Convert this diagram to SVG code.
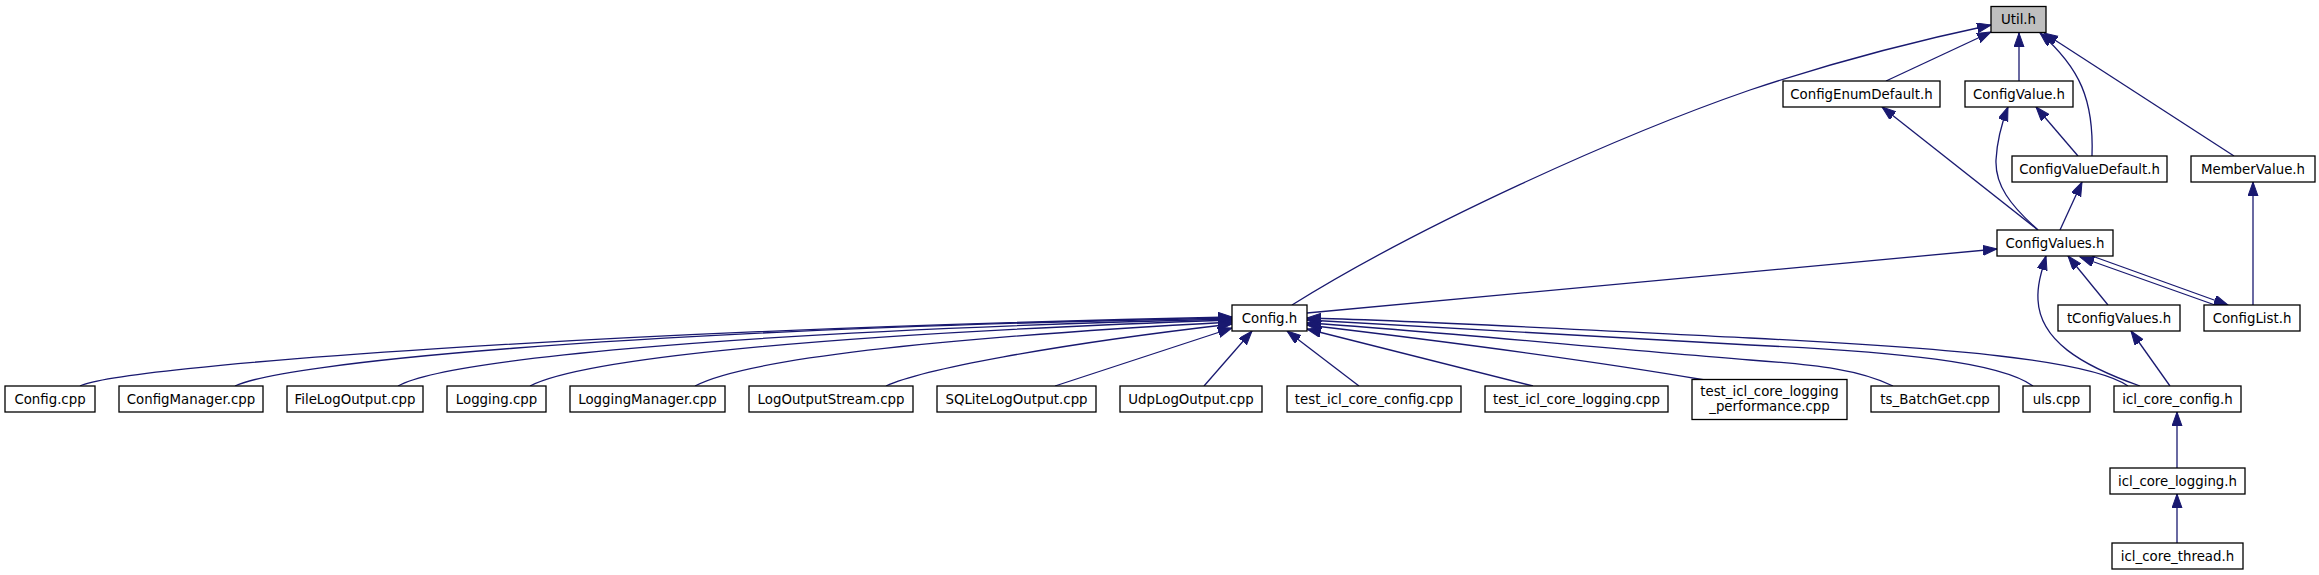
<svg xmlns="http://www.w3.org/2000/svg" width="2319" height="575" viewBox="0 0 2319 575">
<style>
.node rect{fill:#ffffff;stroke:#000000;stroke-width:1.3}
.node.root rect{fill:#bfbfbf}
.node text{font-family:"DejaVu Sans","Liberation Sans",sans-serif;font-size:13.33px;text-anchor:middle;fill:#000000}
.edges path{fill:none;stroke:#191970;stroke-width:1.3;marker-end:url(#arr)}
</style>
<defs>
<marker id="arr" markerUnits="userSpaceOnUse" markerWidth="15" markerHeight="11" refX="14" refY="5" orient="auto">
<path d="M0,0 L14,5 L0,10 z" fill="#191970" stroke="#191970" stroke-width="1"/>
</marker>
</defs>
<rect width="2319" height="575" fill="#ffffff"/>
<g class="edges" id="edges">
<!-- to Util.h -->
<path d="M1292,305 C1420,225 1620,135 1750,90 C1840,60 1920,40 1991,25"/>
<path d="M1886,81 L1991,32"/>
<path d="M2019,81 L2019,33"/>
<path d="M2092,156 C2094,100 2080,68 2040,33"/>
<path d="M2234,156 L2044,33"/>
<!-- level links -->
<path d="M2078,156 L2036,107"/>
<path d="M2038,230 L1882,107"/>
<path d="M2038,230 C2010,205 1995,185 1996,160 C1997,140 2003,120 2008,107"/>
<path d="M2060,230 L2082,182"/>
<path d="M2253,305 L2253,182"/>
<path d="M2108,305 L2068,256"/>
<path d="M2140,386 C2080,365 2040,340 2038,300 C2037,285 2042,270 2046,256"/>
<path d="M2170,386 L2131,331"/>
<path d="M1307,313 L1997,249"/>
<path d="M2215,305 L2080,257"/>
<path d="M2092,256 L2228,305"/>
<path d="M2177,468 L2177,412"/>
<path d="M2177,543 L2177,494"/>
<!-- to Config.h from left -->
<path d="M80,386 C120,366 600,330 1232,317"/>
<path d="M235,386 C280,364 600,330 1232,318"/>
<path d="M398,386 C440,362 700,332 1232,319"/>
<path d="M530,386 C580,360 800,335 1232,320"/>
<path d="M695,386 C740,362 900,340 1232,322"/>
<path d="M886,386 C920,370 1050,345 1232,324"/>
<path d="M1055,386 L1232,328"/>
<!-- from below -->
<path d="M1204,386 L1252,331"/>
<path d="M1359,386 L1287,331"/>
<!-- from right -->
<path d="M1533,386 L1307,329"/>
<path d="M1705,380 C1600,362 1450,342 1307,325"/>
<path d="M1893,386 C1860,370 1820,365 1750,360 C1600,348 1420,330 1307,323"/>
<path d="M2033,386 C2000,362 1900,352 1750,345 C1550,335 1400,324 1307,320"/>
<path d="M2128,386 C2090,360 1950,348 1750,338 C1550,328 1400,320 1307,318"/>
</g>
<g class="node root" id="util_h"><rect x="1991" y="6.5" width="55" height="26"/><text x="2018.5" y="24">Util.h</text></g>
<g class="node" id="configenumdefault_h"><rect x="1783" y="81" width="157" height="26"/><text x="1861.5" y="98.5">ConfigEnumDefault.h</text></g>
<g class="node" id="configvalue_h"><rect x="1965" y="81" width="108" height="26"/><text x="2019" y="98.5">ConfigValue.h</text></g>
<g class="node" id="configvaluedefault_h"><rect x="2012" y="156" width="155" height="26"/><text x="2089.5" y="173.5">ConfigValueDefault.h</text></g>
<g class="node" id="membervalue_h"><rect x="2191" y="156" width="124" height="26"/><text x="2253" y="173.5">MemberValue.h</text></g>
<g class="node" id="configvalues_h"><rect x="1997" y="230" width="116" height="26"/><text x="2055" y="247.5">ConfigValues.h</text></g>
<g class="node" id="config_h"><rect x="1232" y="305" width="75" height="26"/><text x="1269.5" y="322.5">Config.h</text></g>
<g class="node" id="tconfigvalues_h"><rect x="2058" y="305" width="122" height="26"/><text x="2119" y="322.5">tConfigValues.h</text></g>
<g class="node" id="configlist_h"><rect x="2204" y="305" width="96" height="26"/><text x="2252" y="322.5">ConfigList.h</text></g>
<g class="node" id="config_cpp"><rect x="5" y="386" width="90" height="26"/><text x="50" y="403.5">Config.cpp</text></g>
<g class="node" id="configmanager_cpp"><rect x="119" y="386" width="144" height="26"/><text x="191" y="403.5">ConfigManager.cpp</text></g>
<g class="node" id="filelogoutput_cpp"><rect x="287" y="386" width="136" height="26"/><text x="355" y="403.5">FileLogOutput.cpp</text></g>
<g class="node" id="logging_cpp"><rect x="447" y="386" width="99" height="26"/><text x="496.5" y="403.5">Logging.cpp</text></g>
<g class="node" id="loggingmanager_cpp"><rect x="570" y="386" width="155" height="26"/><text x="647.5" y="403.5">LoggingManager.cpp</text></g>
<g class="node" id="logoutputstream_cpp"><rect x="749" y="386" width="164" height="26"/><text x="831" y="403.5">LogOutputStream.cpp</text></g>
<g class="node" id="sqlitelogoutput_cpp"><rect x="937" y="386" width="159" height="26"/><text x="1016.5" y="403.5">SQLiteLogOutput.cpp</text></g>
<g class="node" id="udplogoutput_cpp"><rect x="1120" y="386" width="142" height="26"/><text x="1191" y="403.5">UdpLogOutput.cpp</text></g>
<g class="node" id="test_icl_core_config_cpp"><rect x="1287" y="386" width="174" height="26"/><text x="1374" y="403.5">test_icl_core_config.cpp</text></g>
<g class="node" id="test_icl_core_logging_cpp"><rect x="1485" y="386" width="183" height="26"/><text x="1576.5" y="403.5">test_icl_core_logging.cpp</text></g>
<g class="node" id="test_icl_core_logging_performance_cpp"><rect x="1692" y="379.5" width="155" height="40"/><text x="1769.5" y="396">test_icl_core_logging</text><text x="1769.5" y="411">_performance.cpp</text></g>
<g class="node" id="ts_batchget_cpp"><rect x="1871" y="386" width="128" height="26"/><text x="1935" y="403.5">ts_BatchGet.cpp</text></g>
<g class="node" id="uls_cpp"><rect x="2023" y="386" width="67" height="26"/><text x="2056.5" y="403.5">uls.cpp</text></g>
<g class="node" id="icl_core_config_h"><rect x="2114" y="386" width="127" height="26"/><text x="2177.5" y="403.5">icl_core_config.h</text></g>
<g class="node" id="icl_core_logging_h"><rect x="2110" y="468" width="135" height="26"/><text x="2177.5" y="485.5">icl_core_logging.h</text></g>
<g class="node" id="icl_core_thread_h"><rect x="2112" y="543" width="131" height="26"/><text x="2177.5" y="560.5">icl_core_thread.h</text></g>
</svg>
